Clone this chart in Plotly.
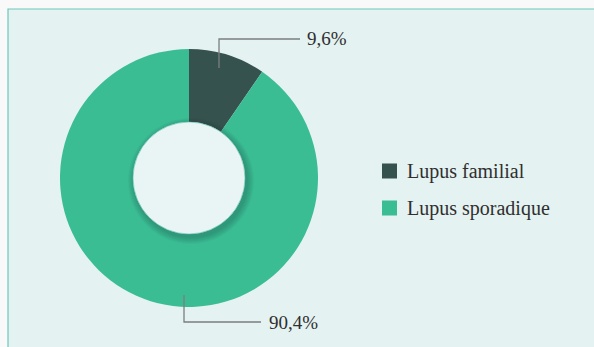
import plotly.graph_objects as go

# Data
categories = ["Lupus familial", "Lupus sporadique"]
values = [9.6, 90.4]
value_labels = ["9,6%", "90,4%"]
colors = ["#36524f", "#3bbd94"]

W, H = 594, 347
BG = "#e4f2f1"
FONT = "Liberation Serif"

# Pie geometry in pixels
cx, cy, R = 189, 178, 129
hole_r = 56


def px(x):
    return x / W


def py(y):
    return 1 - y / H


fig = go.Figure()
fig.add_trace(go.Pie(
    labels=categories,
    values=values,
    marker=dict(colors=colors, line=dict(width=0)),
    sort=False,
    direction="clockwise",
    rotation=0,
    hole=hole_r / R,
    textinfo="none",
    hoverinfo="label+percent",
    showlegend=False,
    domain=dict(x=[px(cx - R), px(cx + R)], y=[py(cy + R), py(cy - R)]),
))

shapes = []
# Panel background with teal border
shapes.append(dict(type="rect", xref="paper", yref="paper",
                   x0=px(8), x1=1.02, y0=-0.02, y1=py(9),
                   fillcolor=BG, line=dict(color="#6cc7bc", width=1.2),
                   layer="below"))

# Soft shadow around the donut hole
for i in range(7):
    r = hole_r + 7 - i
    ox, oy = 2, 3
    shapes.append(dict(type="circle", xref="paper", yref="paper",
                       x0=px(cx + ox - r), x1=px(cx + ox + r),
                       y0=py(cy + oy + r), y1=py(cy + oy - r),
                       fillcolor="rgba(20,60,50,0.04)", line=dict(width=0),
                       layer="above"))
shapes.append(dict(type="circle", xref="paper", yref="paper",
                   x0=px(cx - hole_r), x1=px(cx + hole_r),
                   y0=py(cy + hole_r), y1=py(cy - hole_r),
                   fillcolor="#e8f5f4", line=dict(color="#5cc0b2", width=0.6),
                   layer="above"))

# Elbow leader lines for the value labels
leaders = [
    [(219, 68), (219, 39), (300, 39)],
    [(184, 295), (184, 322), (261, 322)],
]
label_pos = [(305, 39), (267, 322)]
for pts in leaders:
    path = "M " + " L ".join(f"{px(x)},{py(y)}" for x, y in pts)
    shapes.append(dict(type="path", xref="paper", yref="paper", path=path,
                       line=dict(color="#7a7f7e", width=1.3), layer="above"))

annotations = []
for (x, y), txt in zip(label_pos, value_labels):
    annotations.append(dict(x=px(x), y=py(y), xref="paper", yref="paper",
                            text=txt, showarrow=False, xanchor="left",
                            yanchor="middle",
                            font=dict(family=FONT, size=19, color="#2f2f2f")))

# Legend drawn as swatches and labels
leg_x, leg_y0, leg_dy, sw = 382, 171, 37, 15
for i, (name, col) in enumerate(zip(categories, colors)):
    yc = leg_y0 + i * leg_dy
    shapes.append(dict(type="rect", xref="paper", yref="paper",
                       x0=px(leg_x), x1=px(leg_x + sw),
                       y0=py(yc + sw / 2), y1=py(yc - sw / 2),
                       fillcolor=col, line=dict(width=0), layer="above"))
    annotations.append(dict(x=px(leg_x + sw + 8), y=py(yc), xref="paper",
                            yref="paper", text=name, showarrow=False,
                            xanchor="left", yanchor="middle",
                            font=dict(family=FONT, size=20, color="#2f2f2f")))

fig.update_layout(
    width=W, height=H,
    margin=dict(l=0, r=0, t=0, b=0),
    paper_bgcolor="#f9f9f9",
    plot_bgcolor="rgba(0,0,0,0)",
    shapes=shapes,
    annotations=annotations,
    showlegend=False,
)

fig.write_html("out.html")
